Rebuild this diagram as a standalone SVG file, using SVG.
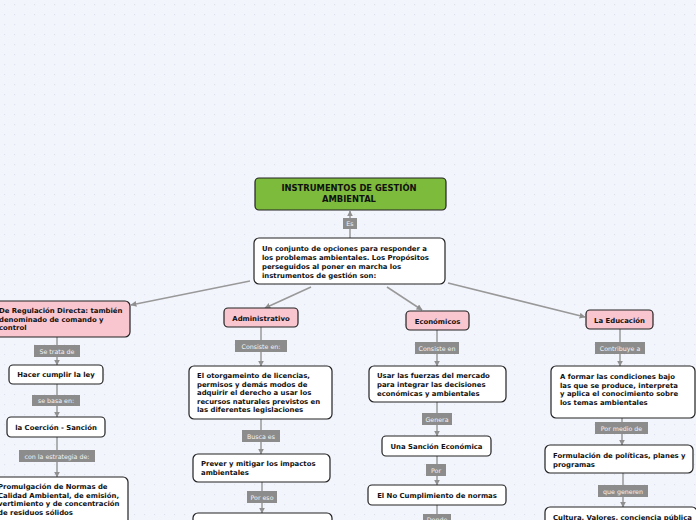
<svg xmlns="http://www.w3.org/2000/svg" width="696" height="520" viewBox="0 0 696 520">
<defs>
<pattern id="dots" width="10" height="10" patternUnits="userSpaceOnUse">
<rect x="4" y="4" width="1.2" height="1.2" fill="#dfe2ee"/>
</pattern>
<marker id="arr" viewBox="0 0 10 10" refX="9" refY="5" markerWidth="4" markerHeight="4" orient="auto-start-reverse" markerUnits="strokeWidth">
<path d="M0,0 L10,5 L0,10 z" fill="#8f8f8f"/>
</marker>
<style>
.n{fill:#ffffff;stroke:#222;stroke-width:1.2}
.p{fill:#f9c6d0;stroke:#222;stroke-width:1.2}
.g{fill:#7dbb3c;stroke:#222;stroke-width:1.2}
.t{font-family:"DejaVu Sans",Verdana,sans-serif;font-weight:bold;font-size:6.9px;fill:#111}
.h{font-size:8.4px}
.c{text-anchor:middle}
.ln{stroke:#999;stroke-width:1.5;fill:none;marker-end:url(#arr)}
.lb{fill:#8c8c8c}
.lt{font-family:"DejaVu Sans",Verdana,sans-serif;font-size:6.3px;fill:#f4f4f4;text-anchor:middle}
</style>
</defs>
<rect width="696" height="520" fill="#f3f5fd"/>
<rect width="696" height="520" fill="url(#dots)"/>

<g id="connectors">
<line class="ln" x1="350" y1="238" x2="350" y2="211"/>
<line class="ln" x1="250" y1="281" x2="131" y2="305"/>
<line class="ln" x1="311" y1="287" x2="265" y2="308"/>
<line class="ln" x1="387" y1="287" x2="422" y2="310"/>
<line class="ln" x1="448" y1="283" x2="585" y2="317"/>
<line class="ln" x1="57" y1="337" x2="57" y2="365"/>
<line class="ln" x1="57" y1="384" x2="57" y2="417"/>
<line class="ln" x1="57" y1="437" x2="57" y2="477"/>
<line class="ln" x1="261" y1="327" x2="261" y2="366"/>
<line class="ln" x1="261" y1="419" x2="261" y2="454"/>
<line class="ln" x1="262" y1="482" x2="262" y2="513"/>
<line class="ln" x1="437" y1="330" x2="437" y2="366"/>
<line class="ln" x1="437" y1="402" x2="437" y2="436"/>
<line class="ln" x1="437" y1="456" x2="437" y2="485"/>
<line class="ln" x1="437" y1="505" x2="437" y2="530"/>
<line class="ln" x1="620" y1="329" x2="620" y2="366"/>
<line class="ln" x1="622" y1="418" x2="622" y2="445"/>
<line class="ln" x1="623" y1="473" x2="623" y2="507"/>
<rect class="lb" x="343" y="218" width="14" height="11"/><text class="lt" x="350" y="226">Es</text>
<rect class="lb" x="34" y="345" width="46" height="12"/><text class="lt" x="57" y="353.5">Se trata de</text>
<rect class="lb" x="32" y="395" width="48" height="11"/><text class="lt" x="56" y="403">se basa en:</text>
<rect class="lb" x="19" y="450" width="76" height="12"/><text class="lt" x="57" y="458.5">con la estrategia de:</text>
<rect class="lb" x="235" y="340" width="52" height="12"/><text class="lt" x="261" y="348.5">Consiste en:</text>
<rect class="lb" x="242" y="430" width="38" height="12"/><text class="lt" x="261" y="438.5">Busca es</text>
<rect class="lb" x="247" y="491" width="30" height="12"/><text class="lt" x="262" y="499.5">Por eso</text>
<rect class="lb" x="415" y="342" width="44" height="12"/><text class="lt" x="437" y="350.5">Consiste en</text>
<rect class="lb" x="422" y="413" width="30" height="12"/><text class="lt" x="437" y="421.5">Genera</text>
<rect class="lb" x="426" y="464" width="20" height="12"/><text class="lt" x="436" y="472.5">Por</text>
<rect class="lb" x="423" y="514" width="28" height="12"/><text class="lt" x="437" y="521.5">Donde</text>
<rect class="lb" x="595" y="342" width="50" height="12"/><text class="lt" x="620" y="350.5">Contribuye a</text>
<rect class="lb" x="595" y="422" width="53" height="12"/><text class="lt" x="621.5" y="430.5">Por medio de</text>
<rect class="lb" x="598" y="485" width="50" height="12"/><text class="lt" x="623" y="493.5">que generen</text>
</g>

<g id="root">
<rect class="g" x="255" y="178" width="191" height="32" rx="4"/>
<text class="t h c" x="349" y="191">INSTRUMENTOS DE GESTIÓN</text>
<text class="t h c" x="349" y="201.5">AMBIENTAL</text>
</g>

<g id="conjunto">
<rect class="n" x="254" y="238" width="191" height="46" rx="5"/>
<text class="t" x="262" y="251">Un conjunto de opciones para responder a</text>
<text class="t" x="262" y="260">los problemas ambientales. Los Propósitos</text>
<text class="t" x="262" y="269">perseguidos al poner en marcha los</text>
<text class="t" x="262" y="278">instrumentos de gestión son:</text>
</g>

<g id="regulacion">
<rect class="p" x="-6" y="301" width="136" height="36" rx="5"/>
<text class="t" x="-1" y="313">De Regulación Directa: también</text>
<text class="t" x="-1" y="321.5">denominado de comando y</text>
<text class="t" x="-1" y="330">control</text>
</g>

<g id="hacer">
<rect class="n" x="9" y="365" width="94" height="19" rx="4"/>
<text class="t c" x="56" y="377">Hacer cumplir la ley</text>
</g>

<g id="coercion">
<rect class="n" x="7" y="417" width="98" height="20" rx="4"/>
<text class="t c" x="56" y="429.5">la Coerción - Sanción</text>
</g>

<g id="promulgacion">
<rect class="n" x="-6" y="477" width="134" height="50" rx="5"/>
<text class="t" x="-2" y="489">Promulgación de Normas de</text>
<text class="t" x="-2" y="497.5">Calidad Ambiental, de emisión,</text>
<text class="t" x="-2" y="506">vertimiento y de concentración</text>
<text class="t" x="-2" y="514.5">de residuos sólidos</text>
</g>

<g id="administrativo">
<rect class="p" x="224" y="308" width="74" height="19" rx="4"/>
<text class="t c" x="261" y="320.5">Administrativo</text>
</g>

<g id="otorgamiento">
<rect class="n" x="189" y="366" width="143" height="53" rx="5"/>
<text class="t" x="197" y="378">El otorgameinto de licencias,</text>
<text class="t" x="197" y="386.5">permisos y demás modos de</text>
<text class="t" x="197" y="395">adquirir el derecho a usar los</text>
<text class="t" x="197" y="403.5">recursos naturales previstos en</text>
<text class="t" x="197" y="412">las diferentes legislaciones</text>
</g>

<g id="prever">
<rect class="n" x="193" y="454" width="137" height="28" rx="5"/>
<text class="t" x="201" y="466">Prever y mitigar los impactos</text>
<text class="t" x="201" y="475">ambientales</text>
</g>

<g id="poreso-node">
<rect class="n" x="193" y="513" width="139" height="20" rx="5"/>
</g>

<g id="economicos">
<rect class="p" x="406" y="311" width="63" height="19" rx="4"/>
<text class="t c" x="437.5" y="323.5">Económicos</text>
</g>

<g id="fuerzas">
<rect class="n" x="369" y="366" width="137" height="36" rx="5"/>
<text class="t" x="377" y="378">Usar las fuerzas del mercado</text>
<text class="t" x="377" y="387">para integrar las decisiones</text>
<text class="t" x="377" y="396">económicas y ambientales</text>
</g>

<g id="sancion">
<rect class="n" x="382" y="436" width="109" height="20" rx="4"/>
<text class="t c" x="436.5" y="448.5">Una Sanción Económica</text>
</g>

<g id="incumplimiento">
<rect class="n" x="368" y="485" width="138" height="20" rx="4"/>
<text class="t c" x="437" y="497.5">El No Cumplimiento de normas</text>
</g>

<g id="educacion">
<rect class="p" x="586" y="310" width="67" height="19" rx="4"/>
<text class="t c" x="619.5" y="322.5">La Educación</text>
</g>

<g id="formar">
<rect class="n" x="551" y="366" width="144" height="52" rx="5"/>
<text class="t" x="560" y="379">A formar las condiciones bajo</text>
<text class="t" x="560" y="387.5">las que se produce, interpreta</text>
<text class="t" x="560" y="396">y aplica el conocimiento sobre</text>
<text class="t" x="560" y="404.5">los temas ambientales</text>
</g>

<g id="formulacion">
<rect class="n" x="545" y="445" width="148" height="28" rx="5"/>
<text class="t" x="553" y="457.5">Formulación de políticas, planes y</text>
<text class="t" x="553" y="466.5">programas</text>
</g>

<g id="cultura">
<rect class="n" x="545" y="507" width="152" height="30" rx="5"/>
<text class="t" x="553" y="519.5">Cultura, Valores, conciencia pública</text>
</g>
</svg>
